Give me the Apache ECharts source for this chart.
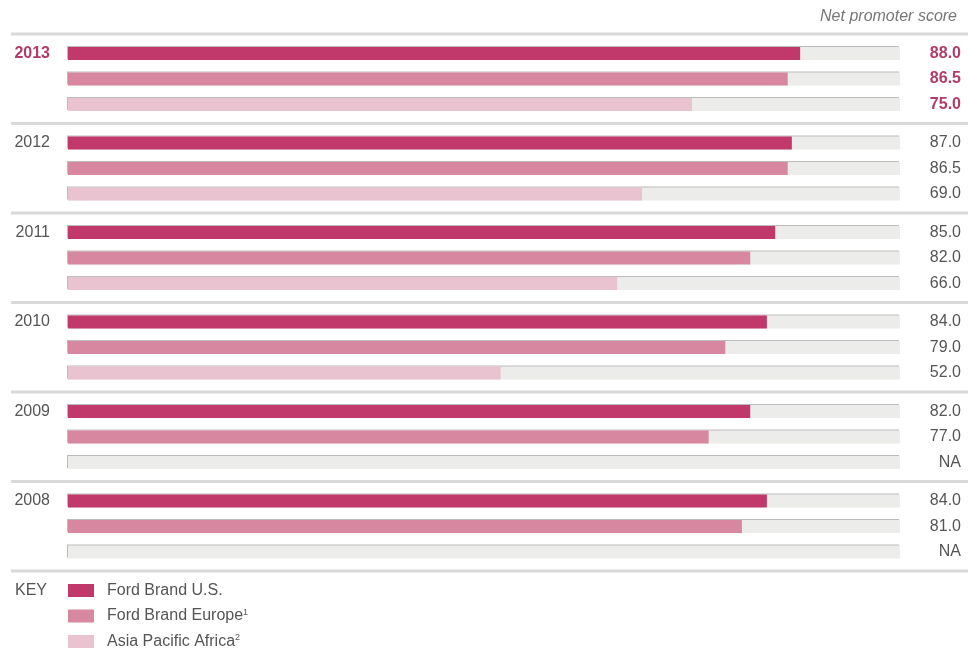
<!DOCTYPE html>
<html>
<head>
<meta charset="utf-8">
<script src="https://cdn.jsdelivr.net/npm/echarts@6/dist/echarts.min.js"></script>
<style>
  html, body { margin: 0; padding: 0; background: #fff; }
  #chart { width: 968px; height: 654px; }
</style>
</head>
<body>
<div id="chart"></div>
<script>
// data
const years = ['2013', '2012', '2011', '2010', '2009', '2008'];
const fordUS = [88.0, 87.0, 85.0, 84.0, 82.0, 84.0];
const fordEurope = [86.5, 86.5, 82.0, 79.0, 77.0, 81.0];
const asiaPacificAfrica = [75.0, 69.0, 66.0, 52.0, null, null];
const seriesNames = ['Ford Brand U.S.', 'Ford Brand Europe', 'Asia Pacific Africa'];
const scaleMax = 100;

const colors = ['#c0396a', '#d7879f', '#eac3d1'];
const highlight = '#b23c68';
const textGrey = '#555555';
const font = '"Liberation Sans", Arial, sans-serif';

// layout
const sepTop = 34;
const groupStep = 89.5;
const rowBand = 25.5;
const gridLeft = 68;
const gridRight = 68;

const grids = [], xAxes = [], yAxes = [], series = [], graphics = [];

const labelRich = {
  b: { color: highlight, fontWeight: 'bold', fontSize: 16, fontFamily: font }
};

years.forEach((year, i) => {
  const top = sepTop + groupStep * i + 6.75;
  const isLatest = i === 0;
  const vals = [fordUS[i], fordEurope[i], asiaPacificAfrica[i]];
  const fmt = v => (isLatest && v ? `{b|${v}}` : v);

  grids.push({
    left: gridLeft, right: gridRight, top, height: rowBand * 3,
    containLabel: false, outerBoundsMode: 'none'
  });
  xAxes.push({
    gridIndex: i, type: 'value', min: 0, max: scaleMax,
    show: false
  });

  yAxes.push({
    gridIndex: i, type: 'category', inverse: true, position: 'left',
    data: [year, '', ''],
    axisLine: { show: false }, axisTick: { show: false }, splitLine: { show: false },
    axisLabel: { margin: 18, color: textGrey, fontSize: 16, fontFamily: font, formatter: fmt, rich: labelRich }
  });
  yAxes.push({
    gridIndex: i, type: 'category', inverse: true, position: 'right',
    data: vals.map(v => (v == null ? 'NA' : v.toFixed(1))),
    axisLine: { show: false }, axisTick: { show: false }, splitLine: { show: false },
    axisLabel: {
      align: 'right', margin: 61, color: textGrey, fontSize: 16, fontFamily: font,
      formatter: fmt, rich: labelRich
    }
  });

  // grey track behind each bar
  series.push({
    type: 'bar', xAxisIndex: i, yAxisIndex: i * 2,
    data: [scaleMax, scaleMax, scaleMax],
    barWidth: 13, barGap: '-100%', silent: true, z: 1,
    itemStyle: {
      color: '#ececea',
      shadowColor: '#bcbcbc', shadowOffsetX: -1, shadowOffsetY: -1, shadowBlur: 0
    }
  });
  seriesNames.forEach((name, k) => {
    const data = ['-', '-', '-'];
    data[k] = vals[k] == null ? '-' : vals[k];
    series.push({
      name, type: 'bar', xAxisIndex: i, yAxisIndex: i * 2,
      stack: 'g' + i, data,
      barWidth: 13, barGap: '-100%', z: 2,
      itemStyle: { color: colors[k] }
    });
  });
});

// separator rules
for (let i = 0; i <= years.length; i++) {
  graphics.push({
    type: 'rect', silent: true,
    shape: { x: 11, y: sepTop + groupStep * i - 1.5, width: 968 - 11, height: 3 },
    style: { fill: '#d9d9d9' }
  });
}
graphics.push({
  type: 'text', left: 15, top: 583,
  style: { text: 'KEY', fill: textGrey, fontSize: 16, fontFamily: font }
});

const sup = { 'Ford Brand Europe': '1', 'Asia Pacific Africa': '2' };

const chart = echarts.init(document.getElementById('chart'), null, { renderer: 'canvas' });
chart.setOption({
  animation: false,
  title: {
    text: 'Net promoter score', right: 6, top: 4,
    textStyle: { color: '#777777', fontStyle: 'italic', fontWeight: 'normal', fontSize: 16, fontFamily: font }
  },
  legend: {
    data: seriesNames, orient: 'vertical', left: 68, top: 582.5, height: 120,
    icon: 'rect', itemWidth: 26, itemHeight: 13, itemGap: 9.5, padding: 0,
    selectedMode: false,
    formatter: name => sup[name] ? `{t|${name}}{s|${sup[name]}}` : `{t|${name}}`,
    textStyle: {
      color: textGrey, fontSize: 16, fontFamily: font,
      rich: {
        t: { color: textGrey, fontSize: 16, fontFamily: font, lineHeight: 16, padding: [0, 0, 0, 8] },
        s: { color: textGrey, fontSize: 9, fontFamily: font, lineHeight: 9, padding: [0, 0, 7, 0] }
      }
    }
  },
  graphic: graphics,
  grid: grids,
  xAxis: xAxes,
  yAxis: yAxes,
  series
});
</script>
</body>
</html>
